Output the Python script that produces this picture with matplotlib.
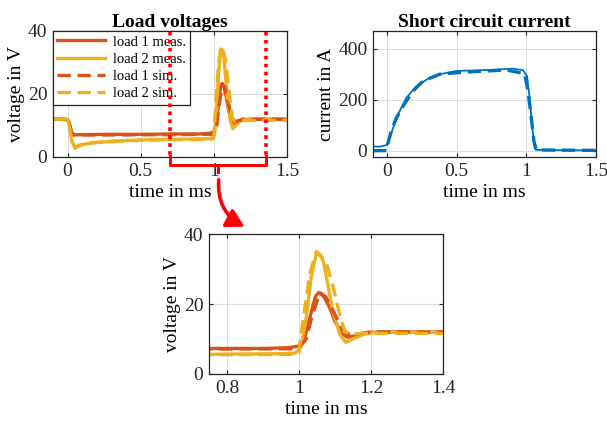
import matplotlib.pyplot as plt
from matplotlib.patches import FancyArrowPatch

plt.rcParams['font.family'] = ['Liberation Serif', 'DejaVu Serif']

# load voltages (time in ms, voltage in V)
t_l1_meas = [-0.1, -0.05, 0.0, 0.01, 0.025, 0.04, 0.1, 0.3, 0.5, 0.7, 0.9, 0.97, 1.0, 1.015,
             1.03, 1.045, 1.055, 1.07, 1.085, 1.1, 1.12, 1.135, 1.16, 1.19, 1.25, 1.5]
v_l1_meas = [12, 12, 11.8, 11, 8, 7.0, 7.1, 7.2, 7.2, 7.3, 7.3, 7.5, 8, 10,
             16, 22, 23.3, 22, 19, 15, 11.4, 10.5, 11, 11.9, 12, 12]
t_l2_meas = [-0.1, -0.05, 0.0, 0.01, 0.03, 0.05, 0.08, 0.125, 0.2, 0.35, 0.5, 0.7, 0.96, 0.99,
             1.005, 1.02, 1.034, 1.048, 1.058, 1.067, 1.08, 1.094, 1.113, 1.13, 1.15, 1.18, 1.215, 1.5]
v_l2_meas = [12, 12, 11.8, 10.5, 5, 2.8, 3.5, 4.2, 4.6, 5.1, 5.4, 5.6, 5.8, 6,
             7.6, 16, 27.6, 34.3, 34, 32.4, 25.7, 18, 11.4, 9, 10, 11.4, 11.9, 11.9]
t_l1_sim = [-0.1, 0.0, 0.01, 0.03, 0.05, 0.3, 0.7, 0.98, 1.0, 1.02, 1.035, 1.058, 1.075,
            1.095, 1.118, 1.136, 1.16, 1.2, 1.5]
v_l1_sim = [12, 12, 11, 7.5, 7, 7, 7.1, 7.2, 7.5, 10, 16, 23.3, 22,
            18, 13.3, 11.4, 11.4, 12, 12]
t_l2_sim = [-0.1, 0.0, 0.01, 0.03, 0.05, 0.08, 0.15, 0.3, 0.5, 0.7, 0.98, 1.0, 1.005, 1.015,
            1.03, 1.048, 1.06, 1.077, 1.095, 1.113, 1.127, 1.14, 1.18, 1.5]
v_l2_sim = [12, 12, 10.5, 5, 3, 3.8, 4.5, 5, 5.3, 5.5, 5.6, 6, 10.5, 18,
            28.6, 35, 34, 31.4, 24.8, 17, 12.4, 11.4, 11.6, 11.6]

# short circuit current (time in ms, current in A)
t_i_meas = [-0.1, -0.05, 0.0, 0.02, 0.043, 0.09, 0.139, 0.21, 0.306, 0.378, 0.5, 0.737,
            0.904, 0.976, 1.005, 1.024, 1.043, 1.06, 1.07, 1.2, 1.5]
i_meas = [16, 16, 22, 49, 88, 154, 207, 253, 286, 300, 313, 317,
          322, 316, 293, 207, 88, 9, 3, 2, 1]
t_i_sim = [-0.1, 0.0, 0.007, 0.03, 0.067, 0.115, 0.187, 0.258, 0.378, 0.5, 0.617, 0.856,
           0.988, 1.012, 1.036, 1.055, 1.072, 1.2, 1.5]
i_sim = [0, 0, 29, 75, 128, 174, 234, 273, 300, 306, 310, 317,
         302, 234, 128, 36, 3, 2, 1]

c_blue = '#0072BD'
c_l1 = '#D95319'
c_l2 = '#EDB120'
dash = (4, 2)
fs = 14


def style_axes(ax):
    ax.tick_params(direction='in', which='both', top=True, right=True, labelsize=fs,
                   colors='#262626', length=3, pad=4)
    for s in ax.spines.values():
        s.set_color('#262626')
        s.set_linewidth(0.9)
    ax.grid(True, color='#dcdcdc', linewidth=0.8)
    ax.set_axisbelow(True)


def plot_voltages(ax, leg=False):
    ax.plot(t_l1_meas, v_l1_meas, color=c_l1, lw=2.4, label='load 1 meas.')
    ax.plot(t_l2_meas, v_l2_meas, color=c_l2, lw=2.4, label='load 2 meas.')
    ax.plot(t_l1_sim, v_l1_sim, color=c_l1, lw=2.4, dashes=dash, label='load 1 sim.')
    ax.plot(t_l2_sim, v_l2_sim, color=c_l2, lw=2.4, dashes=dash, label='load 2 sim.')
    ax.set_ylim(0, 40)
    ax.set_yticks([0, 20, 40])
    ax.set_ylabel('voltage in V', fontsize=fs, labelpad=2)
    ax.set_xlabel('time in ms', fontsize=fs, labelpad=3)
    style_axes(ax)
    if leg:
        lg = ax.legend(loc='upper left', fontsize=10.5, fancybox=False, framealpha=1,
                       edgecolor='#262626', borderaxespad=0, handlelength=3.3,
                       borderpad=0.3, labelspacing=0.28, handletextpad=0.5)
        lg.get_frame().set_linewidth(0.9)


fig = plt.figure(figsize=(6.07, 4.25), dpi=100)

ax1 = fig.add_axes([0.0873, 0.6306, 0.3855, 0.2965])
plot_voltages(ax1, leg=True)
ax1.set_xlim(-0.1, 1.5)
ax1.set_xticks([0, 0.5, 1, 1.5])
ax1.set_xticklabels(['0', '0.5', '1', '1.5'])
ax1.set_title('Load voltages', fontsize=fs, fontweight='bold', pad=3)

ax2 = fig.add_axes([0.6145, 0.6306, 0.3674, 0.2965])
ax2.plot(t_i_meas, i_meas, color=c_blue, lw=1.3)
ax2.plot(t_i_sim, i_sim, color=c_blue, lw=2.4, dashes=dash)
ax2.set_xlim(-0.1, 1.5)
ax2.set_ylim(-25, 470)
ax2.set_xticks([0, 0.5, 1, 1.5])
ax2.set_xticklabels(['0', '0.5', '1', '1.5'])
ax2.set_yticks([0, 200, 400])
ax2.set_ylabel('current in A', fontsize=fs, labelpad=2)
ax2.set_xlabel('time in ms', fontsize=fs, labelpad=3)
ax2.set_title('Short circuit current', fontsize=fs, fontweight='bold', pad=3)
style_axes(ax2)

ax3 = fig.add_axes([0.3443, 0.12, 0.3855, 0.3294])
plot_voltages(ax3)
ax3.set_xlim(0.75, 1.4)
ax3.set_xticks([0.8, 1, 1.2, 1.4])
ax3.set_xticklabels(['0.8', '1', '1.2', '1.4'])

# zoom marker overlay (pixel coordinates)
ov = fig.add_axes([0, 0, 1, 1], facecolor='none')
ov.set_xlim(0, 607)
ov.set_ylim(425, 0)
ov.axis('off')
red = '#ff0000'
for x in (170, 266):
    ov.plot([x, x], [32, 156], color=red, lw=2.6, linestyle=(0, (1, 1.2)))
ov.plot([170, 170, 266, 266], [156, 165, 165, 156], color=red, lw=2.2)
ov.plot([218, 218], [165, 172], color=red, lw=2.2)
arr = FancyArrowPatch((219, 177), (247, 228), connectionstyle='arc3,rad=0.35',
                      arrowstyle='-|>,head_length=8,head_width=4.5', color=red, lw=2.6,
                      mutation_scale=1.3)
ov.add_patch(arr)

fig.savefig('out.png', dpi=100)
